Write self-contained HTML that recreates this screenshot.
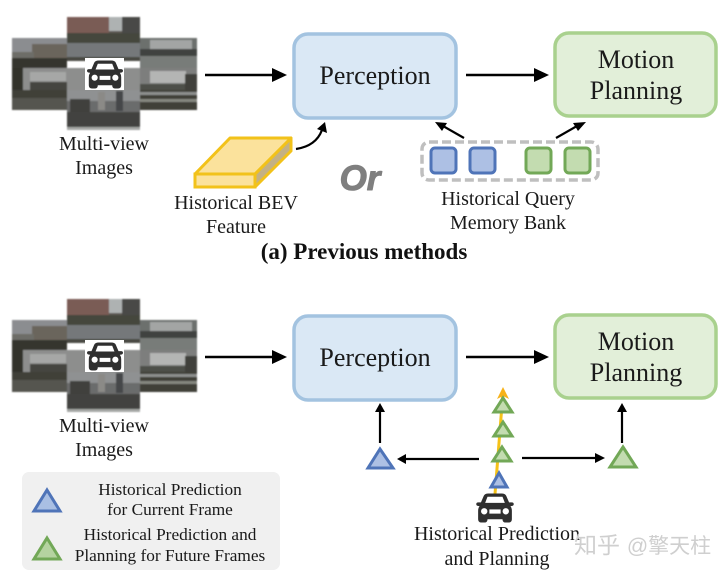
<!DOCTYPE html>
<html><head><meta charset="utf-8"><style>
html,body{margin:0;padding:0;background:#fff;width:728px;height:576px;overflow:hidden}
svg{display:block}
text{font-family:"Liberation Serif","Noto Serif CJK SC",serif;fill:#1a1a1a;text-anchor:middle}
</style></head><body>
<svg width="728" height="576" viewBox="0 0 728 576" xmlns="http://www.w3.org/2000/svg">
<defs>
<filter id="soft" x="-5%" y="-5%" width="110%" height="110%"><feGaussianBlur stdDeviation="0.8"/></filter>
<symbol id="car" viewBox="0 0 40 32" overflow="visible">
<path d="M8 3 Q9 0.5 13 0.5 H27 Q31 0.5 32 3 L35 10 H38 Q40 10 40 12 Q40 14 36.5 14 Q38 16 38 19 V28 Q38 31.5 34.5 31.5 H31 Q28 31.5 28 28 H12 Q12 31.5 9 31.5 H5.5 Q2 31.5 2 28 V19 Q2 16 3.5 14 Q0 14 0 12 Q0 10 2 10 H5 Z" fill="#2f2f2f"/>
<path d="M12 4 H28 L30.5 10.5 H9.5 Z" fill="#fff"/>
<circle cx="8.5" cy="19.5" r="3.4" fill="#fff"/><circle cx="31.5" cy="19.5" r="3.4" fill="#fff"/>
<rect x="14" y="17.5" width="12" height="4.5" fill="#fff"/>
</symbol>
<g id="views">
<g filter="url(#soft)">
<rect x="12" y="38" width="55" height="32" fill="#8b8d90"/>
<rect x="32" y="44" width="35" height="16" fill="#6a655c"/>
<rect x="12" y="52" width="22" height="8" fill="#6d6d68"/>
<rect x="12" y="58" width="55" height="10" fill="#35362f"/>
<rect x="140" y="38" width="57" height="32" fill="#6c6f6d"/>
<rect x="150" y="40" width="42" height="9" fill="#a3a5a4"/>
<rect x="140" y="49" width="57" height="7" fill="#3f4340"/>
<rect x="140" y="56" width="57" height="12" fill="#787b79"/>
<rect x="12" y="68" width="185" height="24" fill="#8d8e8d"/>
<rect x="140" y="68" width="57" height="22" fill="#7d7e7d"/>
<rect x="150" y="71" width="36" height="12" fill="#b4b5b4"/>
<rect x="30" y="72" width="36" height="9" fill="#a6a7a6"/>
<rect x="12" y="68" width="11" height="26" fill="#30322c"/>
<rect x="30" y="82" width="37" height="10" fill="#44453f"/>
<rect x="140" y="84" width="57" height="6" fill="#4e4f49"/>
<rect x="185" y="74" width="12" height="18" fill="#3f413a"/>
<rect x="12" y="90" width="185" height="20" fill="#403f39"/>
<rect x="12" y="98" width="55" height="12" fill="#55554f"/>
<rect x="140" y="92" width="57" height="3" fill="#8d8f8d"/>
<rect x="140" y="99" width="57" height="3" fill="#85877f"/>
<rect x="67" y="17" width="73" height="44" fill="#5f5a55"/>
<rect x="67" y="17" width="42" height="18" fill="#7a5c55"/>
<rect x="109" y="17" width="13" height="14" fill="#aeb2b2"/>
<rect x="122" y="17" width="18" height="18" fill="#4a4846"/>
<rect x="67" y="33" width="73" height="10" fill="#44463e"/>
<polygon points="67,43 140,43 140,57 67,57" fill="#75787a"/>
<rect x="67" y="57" width="73" height="4" fill="#484943"/>
<rect x="67" y="90" width="73" height="40" fill="#6a6c6c"/>
<rect x="67" y="90" width="73" height="11" fill="#8f9192"/>
<rect x="70" y="99" width="20" height="14" fill="#3f403c"/>
<rect x="98" y="92" width="7" height="18" fill="#8b8a87"/>
<rect x="116" y="91" width="7" height="20" fill="#45464a"/>
<rect x="67" y="112" width="73" height="15" fill="#424340"/>
<rect x="67" y="127" width="73" height="3" fill="#a5a7a5"/>
</g>
<rect x="85" y="58" width="39" height="32" fill="#fff"/>
<use href="#car" x="87" y="60" width="36" height="29"/>
</g>
</defs>

<!-- Top row -->
<use href="#views"/>
<text x="104" y="150" font-size="20">Multi-view</text>
<text x="104" y="174" font-size="20">Images</text>
<line x1="205" y1="75" x2="274" y2="75" stroke="#000" stroke-width="2.5"/>
<polygon points="272,68 287,75 272,82" fill="#000"/>
<rect x="294" y="34" width="162" height="84" rx="14" fill="#dae8f5" stroke="#a3c3e0" stroke-width="3.5"/>
<text x="375" y="84" font-size="26">Perception</text>
<line x1="466" y1="75" x2="536" y2="75" stroke="#000" stroke-width="2.5"/>
<polygon points="534,68 549,75 534,82" fill="#000"/>
<rect x="555" y="33" width="161" height="83" rx="14" fill="#e2efd9" stroke="#a9d18e" stroke-width="3.5"/>
<text x="636" y="68" font-size="26">Motion</text>
<text x="636" y="99" font-size="26">Planning</text>

<!-- BEV block -->
<polygon points="255,174 291,138 291,151 255,187" fill="#c4b183" stroke="#f2c21a" stroke-width="3" stroke-linejoin="round"/>
<polygon points="195,174 255,174 291,138 230,138" fill="#fbe29c" stroke="#f2c21a" stroke-width="3" stroke-linejoin="round"/>
<rect x="195" y="174" width="60" height="13" fill="#fbe29c" stroke="#f2c21a" stroke-width="3"/>
<path d="M296 149 Q316 146 322 130" fill="none" stroke="#000" stroke-width="2.2"/>
<polygon points="325,122 327,133 317,129" fill="#000"/>
<text x="236" y="209" font-size="20">Historical BEV</text>
<text x="236" y="233" font-size="20">Feature</text>

<text x="360" y="190" font-size="35" font-weight="bold" font-style="italic" stroke="#7f7f7f" stroke-width="1" stroke-linejoin="round" style="font-family:'Liberation Sans',sans-serif;fill:#7f7f7f">Or</text>

<!-- Memory bank -->
<rect x="422" y="142" width="176" height="38" rx="7" fill="none" stroke="#bfbfbf" stroke-width="3.5" stroke-dasharray="9 4"/>
<rect x="431" y="148" width="25" height="25" rx="4" fill="#adc0e4" stroke="#4f74b8" stroke-width="3"/>
<rect x="470" y="148" width="25" height="25" rx="4" fill="#adc0e4" stroke="#4f74b8" stroke-width="3"/>
<rect x="526" y="148" width="25" height="25" rx="4" fill="#c3dcb0" stroke="#72a857" stroke-width="3"/>
<rect x="565" y="148" width="25" height="25" rx="4" fill="#c3dcb0" stroke="#72a857" stroke-width="3"/>
<line x1="464" y1="138" x2="443" y2="126" stroke="#000" stroke-width="2.2"/>
<polygon points="435,122 447,123 442,131" fill="#000"/>
<line x1="556" y1="138" x2="577" y2="126" stroke="#000" stroke-width="2.2"/>
<polygon points="586,122 573,123 578,131" fill="#000"/>
<text x="508" y="205" font-size="20">Historical Query</text>
<text x="508" y="229" font-size="20">Memory Bank</text>
<text x="364" y="259" font-size="23" font-weight="bold" style="fill:#111">(a) Previous methods</text>

<!-- Bottom row -->
<use href="#views" y="282"/>
<text x="104" y="432" font-size="20">Multi-view</text>
<text x="104" y="456" font-size="20">Images</text>
<line x1="205" y1="357" x2="274" y2="357" stroke="#000" stroke-width="2.5"/>
<polygon points="272,350 287,357 272,364" fill="#000"/>
<rect x="294" y="316" width="162" height="84" rx="14" fill="#dae8f5" stroke="#a3c3e0" stroke-width="3.5"/>
<text x="375" y="366" font-size="26">Perception</text>
<line x1="466" y1="357" x2="536" y2="357" stroke="#000" stroke-width="2.5"/>
<polygon points="534,350 549,357 534,364" fill="#000"/>
<rect x="555" y="315" width="161" height="83" rx="14" fill="#e2efd9" stroke="#a9d18e" stroke-width="3.5"/>
<text x="636" y="350" font-size="26">Motion</text>
<text x="636" y="381" font-size="26">Planning</text>

<!-- Trajectory -->
<line x1="495" y1="494" x2="503" y2="392" stroke="#f5c218" stroke-width="3"/>
<polygon points="503,387 509,399 503,396 497,399" fill="#f7b21a"/>
<polygon points="503,398 512,412 494,412" fill="#c3dcb0" stroke="#72a857" stroke-width="3"/>
<polygon points="503,422 512,436 494,436" fill="#c3dcb0" stroke="#72a857" stroke-width="3"/>
<polygon points="502,447 511,461 493,461" fill="#c3dcb0" stroke="#72a857" stroke-width="3"/>
<polygon points="499,473 507,487 491,487" fill="#adc0e4" stroke="#4f74b8" stroke-width="3"/>
<use href="#car" x="476" y="493" width="38" height="30"/>

<line x1="380" y1="443" x2="380" y2="410" stroke="#000" stroke-width="2.2"/>
<polygon points="380,403 385,412 375,412" fill="#000"/>
<line x1="622" y1="443" x2="622" y2="410" stroke="#000" stroke-width="2.2"/>
<polygon points="622,403 627,412 617,412" fill="#000"/>
<polygon points="380,449 393,468 368,468" fill="#adc0e4" stroke="#4f74b8" stroke-width="3"/>
<polygon points="623,447 636,467 610,467" fill="#c3dcb0" stroke="#72a857" stroke-width="3"/>
<line x1="479" y1="459" x2="404" y2="459" stroke="#000" stroke-width="2.2"/>
<polygon points="397,459 406,454 406,464" fill="#000"/>
<line x1="522" y1="458" x2="598" y2="458" stroke="#000" stroke-width="2.2"/>
<polygon points="605,458 595,453 595,463" fill="#000"/>
<text x="497" y="540" font-size="20">Historical Prediction</text>
<text x="497" y="565" font-size="20">and Planning</text>

<!-- Legend -->
<rect x="22" y="472" width="258" height="98" rx="7" fill="#f0f0f0"/>
<polygon points="47,490 60,511 34,511" fill="#a9bfe3" stroke="#4f74b8" stroke-width="3"/>
<polygon points="47,538 60,559 34,559" fill="#b5d3a0" stroke="#72a857" stroke-width="3"/>
<text x="170" y="495" font-size="17.3">Historical Prediction</text>
<text x="170" y="515" font-size="17.3">for Current Frame</text>
<text x="170" y="540" font-size="17.3">Historical Prediction and</text>
<text x="170" y="561" font-size="17.3">Planning for Future Frames</text>

<!-- Watermark -->
<text x="597" y="553" font-size="23" style="font-family:'Noto Sans CJK SC',sans-serif;fill:#cfcfcf">知乎</text>
<text x="669" y="553" font-size="21" style="font-family:'Liberation Sans','Noto Sans CJK SC',sans-serif;fill:#cfcfcf">@擎天柱</text>
</svg>
</body></html>
